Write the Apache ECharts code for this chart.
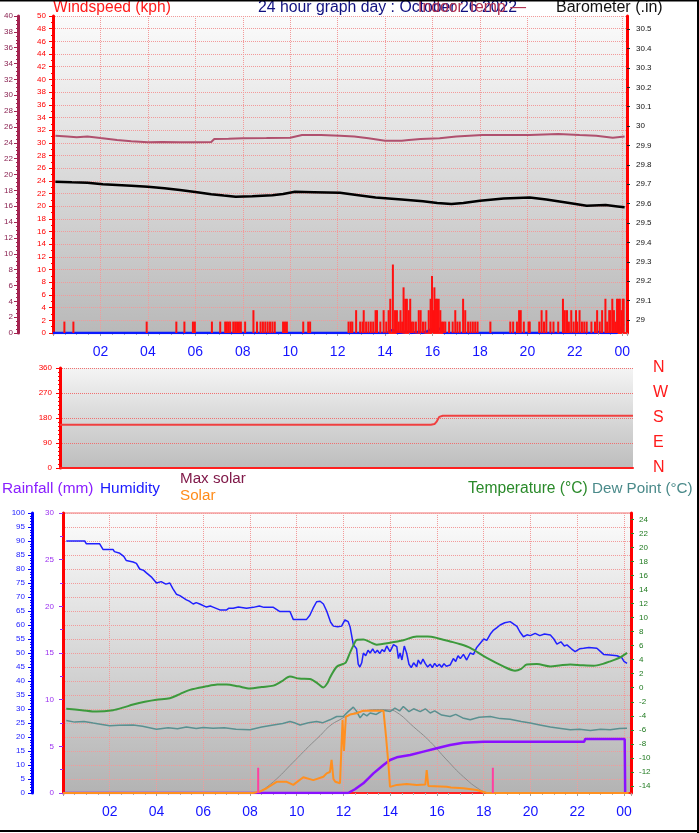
<!DOCTYPE html>
<html><head><meta charset="utf-8">
<script src="https://cdn.jsdelivr.net/npm/echarts@6/dist/echarts.min.js"></script>
<style>html,body{margin:0;padding:0;background:#fff}#c{width:699px;height:833px}</style>
</head><body><div id="c"></div>
<script>
// ---------- tick labels ----------
const hourLabels = ['02','04','06','08','10','12','14','16','18','20','22','00'];
const baroTicks = [29.0,29.1,29.2,29.3,29.4,29.5,29.6,29.7,29.8,29.9,30.0,30.1,30.2,30.3,30.4,30.5];
const tempTicks = [-14,-12,-10,-8,-6,-4,-2,0,2,4,6,8,10,12,14,16,18,20,22,24];
const dirLetters = {0:'N',90:'E',180:'S',270:'W',360:'N'};

// ---------- top panel data [hour, value] ----------
const indoorTemp = [[0.1,24.9],[0.6,24.8],[1.0,24.7],[1.45,24.8],[2.0,24.6],[2.7,24.35],[3.3,24.2],[4.0,24.06],[4.6,24.1],[5.35,24.06],[6.0,24.06],[6.67,24.1],[6.8,24.48],[7.4,24.5],[8.0,24.56],[9.0,24.6],[10.0,24.65],[10.5,24.98],[11.3,24.98],[12.1,24.9],[12.7,24.8],[13.3,24.56],[14.0,24.27],[14.7,24.27],[15.0,24.35],[15.5,24.48],[16.3,24.56],[17.0,24.8],[18.1,24.98],[19.0,24.98],[20.1,24.98],[21.3,25.1],[22.2,24.98],[22.9,24.9],[23.6,24.65],[24.1,24.8]];
const barometer = [[0.1,29.713],[0.8,29.71],[1.45,29.708],[2.1,29.70],[2.7,29.696],[3.3,29.692],[4.0,29.687],[4.7,29.68],[5.35,29.670],[6.0,29.66],[6.67,29.649],[7.2,29.642],[7.7,29.636],[8.4,29.638],[9.25,29.644],[9.7,29.65],[10.2,29.661],[11.0,29.659],[12.1,29.656],[12.8,29.645],[13.6,29.632],[14.7,29.622],[15.6,29.612],[16.2,29.604],[16.8,29.598],[17.3,29.604],[18.0,29.615],[19.0,29.627],[20.1,29.632],[20.8,29.622],[21.7,29.605],[22.5,29.589],[23.3,29.593],[23.8,29.586],[24.1,29.581]];
const windSpeed = [[0.48,1.8],[0.86,1.8],[3.95,1.8],[5.2,1.8],[5.54,1.8],[5.9,1.8],[5.98,1.8],[6.7,1.8],[7.05,1.8],[7.26,1.8],[7.33,1.8],[7.4,1.8],[7.47,1.8],[7.6,1.8],[7.68,1.8],[7.76,1.8],[7.84,1.8],[7.92,1.8],[8.1,1.8],[8.45,3.6],[8.6,1.8],[8.75,1.8],[8.85,1.8],[8.95,1.8],[9.05,1.8],[9.15,1.8],[9.25,1.8],[9.35,1.8],[9.7,1.8],[9.78,1.8],[9.86,1.8],[10.55,1.8],[10.76,1.8],[10.84,1.8],
[12.46,1.8],[12.55,1.8],[12.62,1.8],[12.78,3.6],[12.95,1.8],[13.05,1.8],[13.1,3.6],[13.2,1.8],[13.3,1.8],[13.4,1.8],[13.5,1.8],[13.6,3.6],[13.66,3.6],[13.8,1.8],[13.94,3.6],[14.05,1.8],[14.15,3.6],[14.22,5.4],[14.33,10.8],[14.42,3.6],[14.5,3.6],[14.58,1.8],[14.65,3.6],[14.72,1.8],[14.78,7.2],[14.85,5.4],[14.92,5.4],[15.0,3.6],[15.06,5.4],[15.13,1.8],[15.2,1.8],[15.3,1.8],[15.42,3.6],[15.5,3.6],[15.6,1.8],[15.7,1.8],[15.84,3.6],[15.92,5.4],[15.98,9.0],[16.04,3.6],[16.08,7.2],[16.14,5.4],[16.19,5.4],[16.26,5.4],[16.33,3.6],[16.4,1.8],[16.47,1.8],[16.54,1.8],[16.7,1.8],[16.85,1.8],[16.96,3.6],[17.05,1.8],[17.15,1.8],[17.29,5.4],[17.38,3.6],[17.5,1.8],[17.6,1.8],[17.7,1.8],[17.8,1.8],[17.9,1.8],[18.44,1.8],
[19.28,1.8],[19.4,1.8],[19.56,1.8],[19.65,3.6],[19.72,3.6],[19.85,1.8],[20.05,1.8],[20.1,1.8],[20.5,1.8],[20.6,3.6],[20.7,1.8],[20.8,3.6],[20.97,1.8],[21.1,1.8],[21.3,1.8],[21.5,5.4],[21.58,3.6],[21.67,3.6],[21.75,1.8],[21.85,3.6],[21.95,1.8],[22.05,3.6],[22.1,1.8],[22.2,3.6],[22.3,1.8],[22.4,1.8],[22.5,1.8],[22.7,1.8],[22.85,1.8],[22.94,3.6],[23.05,1.8],[23.15,3.6],[23.29,5.4],[23.36,1.8],[23.45,3.6],[23.5,3.6],[23.58,5.4],[23.65,3.6],[23.72,1.8],[23.78,5.4],[23.84,5.4],[23.9,5.4],[23.96,3.6],[24.02,5.4],[24.06,5.4]];
const avgWind = [[0,0],[14.1,0],[14.2,0.3],[14.33,0.5],[14.45,0.2],[14.55,0],[14.85,0.2],[15.0,0.2],[15.1,0],[15.45,0.2],[15.55,0],[15.8,0.3],[15.95,0.6],[16.1,0.6],[16.2,0.4],[16.3,0.7],[16.4,0.4],[16.5,0],[22.9,0],[23.0,0.2],[23.1,0],[23.75,0],[23.85,0.3],[23.95,0.8],[24.05,1.4]];

// ---------- middle panel ----------
const windDir = [[0,156],[15.6,156],[15.75,158],[15.85,168],[15.95,184],[16.1,188],[24.1,188]];

// ---------- bottom panel ----------
const humidity = [[0.14,90],[0.93,90],[1.0,89],[1.57,89],[1.71,87],[2.14,87],[2.2,86.2],[2.43,85.6],[2.6,84.5],[2.71,83],[3.0,82.5],[3.14,82],[3.28,80],[3.45,79.5],[3.57,78.6],[3.8,77],[4.0,75],[4.2,75.5],[4.4,74.6],[4.57,75],[4.7,73],[4.85,71],[5.0,70.5],[5.28,69],[5.4,68.5],[5.57,67.5],[5.7,68],[5.85,67.5],[6.14,66.4],[6.3,66.8],[6.42,66.4],[6.71,65.4],[7.0,65.4],[7.1,66],[7.28,66],[7.5,66.4],[7.85,66],[8.14,66.3],[8.4,66.8],[8.6,66.3],[9.0,66.3],[9.28,64.8],[9.71,64.8],[9.85,62],[10.42,62],[10.56,63.5],[10.7,66],[10.85,68.3],[11.0,68.5],[11.14,67.5],[11.28,65],[11.45,61],[11.57,59.6],[11.75,59.4],[11.92,59.6],[12.06,61.8],[12.2,61.2],[12.28,59.4],[12.42,53],[12.56,51.5],[12.63,46],[12.7,45],[12.78,46.5],[12.85,50],[12.95,49],[13.05,51],[13.14,50],[13.25,51.5],[13.35,50],[13.45,51],[13.55,49.8],[13.65,51.2],[13.75,50.5],[13.85,52.5],[13.99,50.5],[14.14,53],[14.28,52.3],[14.35,48],[14.42,50],[14.5,47.5],[14.6,52.5],[14.7,50],[14.8,46],[14.9,44.8],[15.0,46.5],[15.13,45.1],[15.2,47.5],[15.3,46],[15.4,47.8],[15.5,46.2],[15.6,45],[15.71,46],[15.8,44.8],[15.9,46.3],[16.0,45.2],[16.1,46],[16.2,44.9],[16.3,46.2],[16.4,45.3],[16.56,45.7],[16.7,48],[16.8,47],[16.9,49],[17.0,48],[17.13,49.5],[17.27,47.5],[17.42,50],[17.56,49.5],[17.7,52],[17.85,53.5],[18.0,55],[18.13,54.5],[18.3,57],[18.42,58.2],[18.55,59],[18.7,60],[18.9,60.8],[19.13,61.2],[19.3,60.2],[19.42,59.5],[19.55,57.5],[19.7,55.8],[19.85,56.5],[19.99,56.2],[20.2,57],[20.4,56.2],[20.6,56.8],[20.85,56.4],[21.0,55],[21.13,53.2],[21.3,54],[21.45,52.5],[21.56,52.9],[21.75,51.5],[21.91,50.5],[22.1,51.5],[22.27,51.7],[22.5,52],[22.84,51.7],[23.0,50.5],[23.13,49.5],[23.4,49.3],[23.7,49],[23.91,48.3],[24.0,47],[24.13,46.3]];
const temperature = [[0.14,-3.0],[0.8,-3.2],[1.43,-3.4],[2.14,-3.2],[2.6,-2.8],[3.0,-2.4],[3.5,-2.0],[4.0,-1.7],[4.57,-1.5],[5.0,-0.9],[5.43,-0.3],[6.14,0.2],[6.6,0.45],[7.0,0.47],[7.5,0.2],[8.0,-0.1],[8.5,0.1],[9.0,0.3],[9.35,0.9],[9.71,1.6],[10.1,1.3],[10.56,1.24],[10.9,0.6],[11.14,0.04],[11.3,0.6],[11.43,1.5],[11.71,3.0],[11.99,3.4],[12.1,3.6],[12.28,5.0],[12.42,6.0],[12.56,6.8],[12.85,6.86],[13.14,6.5],[13.42,6.14],[13.99,6.4],[14.56,6.76],[15.13,7.3],[15.6,7.3],[15.99,7.1],[16.56,6.6],[17.0,6.2],[17.42,5.67],[18.13,4.24],[18.84,3.04],[19.34,2.43],[19.6,2.7],[19.84,3.3],[20.27,3.38],[20.85,3.04],[21.3,3.2],[21.7,3.3],[22.2,3.2],[22.7,3.14],[23.1,3.4],[23.41,3.76],[23.84,4.33],[24.13,4.96]];
const dewPoint = [[0.14,-4.67],[0.5,-4.9],[0.9,-4.8],[1.29,-5.04],[1.6,-5.2],[2.0,-5.43],[2.4,-5.35],[3.0,-5.3],[3.4,-5.5],[4.0,-5.9],[4.5,-5.7],[4.9,-5.85],[5.28,-5.6],[5.7,-5.8],[6.0,-5.65],[6.42,-5.76],[6.9,-5.7],[7.4,-5.9],[8.0,-6.0],[8.5,-5.6],[9.0,-5.3],[9.4,-5.1],[9.71,-4.8],[9.9,-5.0],[10.14,-5.3],[10.5,-5.0],[10.85,-4.8],[11.1,-5.0],[11.42,-4.57],[11.71,-4.1],[11.99,-4.1],[12.2,-3.4],[12.42,-2.76],[12.55,-3.3],[12.71,-4.3],[12.85,-3.7],[13.0,-4.0],[13.14,-3.6],[13.4,-3.8],[13.7,-3.2],[13.99,-3.4],[14.2,-2.9],[14.4,-3.3],[14.56,-2.67],[14.8,-3.4],[15.0,-3.0],[15.28,-3.4],[15.5,-3.0],[15.71,-3.6],[15.9,-3.3],[16.2,-3.9],[16.56,-4.1],[16.8,-3.8],[17.1,-4.3],[17.42,-4.57],[17.8,-4.2],[18.28,-4.1],[18.7,-4.4],[19.13,-4.5],[19.6,-4.8],[19.99,-5.04],[20.4,-5.3],[20.85,-5.6],[21.3,-5.8],[21.7,-6.0],[22.1,-5.9],[22.56,-6.1],[23.0,-5.9],[23.41,-6.0],[23.8,-5.8],[24.13,-5.76]];
const rainfall = [[0,0],[12.2,0],[12.49,0.4],[12.85,1.04],[13.28,2.1],[13.71,3.0],[13.99,3.54],[14.28,3.82],[14.85,4.07],[15.42,4.43],[15.99,4.79],[16.56,5.14],[17.13,5.39],[17.99,5.5],[22.3,5.5],[22.34,5.79],[24.03,5.79],[24.05,0]];
const solar = [[0,0],[8.14,0],[8.21,3],[8.42,5],[8.71,17],[9.14,40],[9.57,40],[9.85,29],[10.28,56],[10.71,46],[11.14,58],[11.28,70],[11.42,75],[11.49,118],[11.57,50],[11.65,40],[11.85,35],[11.96,261],[12.02,150],[12.06,154],[12.1,272],[12.28,280],[12.56,285],[12.85,294],[13.3,294],[13.71,294],[13.78,296],[13.82,201],[13.88,143],[13.92,106],[13.99,22],[14.28,29],[14.71,32],[15.13,29],[15.5,30],[15.56,82],[15.63,25],[15.71,22],[16.42,22],[16.6,20],[17.13,17],[17.7,11],[18.13,0],[24.2,0]];
const maxSolar = [[8.35,0],[9.0,40],[9.85,110],[10.5,165],[11.0,205],[11.42,240],[11.85,262],[12.28,280],[12.85,292],[13.4,298],[13.9,297],[14.28,288],[14.99,237],[15.71,183],[16.42,118],[17.13,58],[17.85,11],[18.2,0]];
const sunTimes = [8.35, 18.39];

// ---------- chart ----------
const chart = echarts.init(document.getElementById('c'));
const G = echarts.graphic.LinearGradient;
const grad = (a,b) => new G(0,0,0,1,[{offset:0,color:a},{offset:1,color:b}]);
const pink = '#f29a9a';
const FF = 'Liberation Sans';
const sunMarks = [];
sunTimes.forEach(t => { sunMarks.push([t,0],[t,9],'-'); });

function xAx(grid, max, showLabels, split) {
  return {
    type:'value', gridIndex:grid, min:0, max:max, interval:2,
    axisLine:{show:true, onZero:false, lineStyle:{color:'#ff2020', width:2}},
    axisTick:{show:showLabels, length:3, lineStyle:{color:'#a0a0a0'}},
    minorTick:{show:showLabels, splitNumber:4, length:2, lineStyle:{color:'#b0b0b0'}},
    axisLabel:{show:showLabels, margin:12, color:'#1414ff', fontSize:14, fontFamily:FF,
      formatter: v => v>0 ? hourLabels[v/2-1] : ''},
    splitLine:{show:split, lineStyle:{color:pink, type:'dotted', width:1}}
  };
}
const txt = (l,t,s,c,f) => ({type:'text', left:l, top:t, style:{text:s, fill:c, font:f+'px "Liberation Sans"'}});

chart.setOption({
  animation:false,
  backgroundColor:'#ffffff',
  textStyle:{fontFamily:FF},
  grid:[
    {left:53, top:16, width:574, height:317, show:true, borderWidth:0, backgroundColor:grad('#fbfbfb','#b9b9b9')},
    {left:60, top:368, width:573, height:100, show:true, borderWidth:0, backgroundColor:grad('#f4f4f4','#bdbdbd')},
    {left:63, top:513, width:568, height:280, show:true, borderWidth:1, borderColor:'#f07070', backgroundColor:grad('#fcfcfc','#b3b3b3')}
  ],
  xAxis:[ xAx(0,24.2,true,true), xAx(1,24.1,false,false), xAx(2,24.3,true,true) ],
  yAxis:[
    {type:'value', gridIndex:0, min:0, max:50, interval:2, position:'left',
     axisLine:{show:true, lineStyle:{color:'#ff0000', width:3}},
     axisTick:{show:true, length:4, lineStyle:{color:'#ff0000'}},
     minorTick:{show:true, splitNumber:2, length:2, lineStyle:{color:'#ff0000'}},
     axisLabel:{color:'#ff0000', fontSize:8, margin:7},
     splitLine:{show:true, lineStyle:{color:pink, type:'dotted'}}},
    {type:'value', gridIndex:0, min:0, max:40, interval:2, position:'left', offset:35,
     axisLine:{show:true, lineStyle:{color:'#a3224f', width:3}},
     axisTick:{show:true, length:4, lineStyle:{color:'#a3224f'}},
     minorTick:{show:true, splitNumber:4, length:2, lineStyle:{color:'#a3224f'}},
     axisLabel:{color:'#8a2050', fontSize:8, margin:5},
     splitLine:{show:false}},
    {type:'value', gridIndex:0, min:28.933, max:30.568, position:'right',
     axisLine:{show:true, lineStyle:{color:'#ff0000', width:3}},
     axisTick:{show:true, length:3, customValues:baroTicks, lineStyle:{color:'#222'}},
     axisLabel:{color:'#111', fontSize:8, margin:9, customValues:baroTicks, formatter: v => String(+v.toFixed(1))},
     splitLine:{show:false}},
    {type:'value', gridIndex:1, min:0, max:360, interval:90, position:'left',
     axisLine:{show:true, lineStyle:{color:'#ff0000', width:3}},
     axisTick:{show:true, length:4, lineStyle:{color:'#ff0000'}},
     minorTick:{show:true, splitNumber:6, length:2, lineStyle:{color:'#ff0000'}},
     axisLabel:{color:'#ff0000', fontSize:8, margin:8},
     splitLine:{show:true, lineStyle:{color:'#f07070', type:'dotted'}}},
    {type:'value', gridIndex:1, min:0, max:360, interval:90, position:'right',
     axisLine:{show:false}, axisTick:{show:false},
     axisLabel:{color:'#ff1a1a', fontSize:16, margin:20, formatter: v => dirLetters[v]},
     splitLine:{show:false}},
    {type:'value', gridIndex:2, min:0, max:30, interval:5, position:'left',
     axisLine:{show:true, lineStyle:{color:'#ff0000', width:3}},
     axisTick:{show:true, length:4, lineStyle:{color:'#9a30f0'}},
     minorTick:{show:true, splitNumber:2, length:3, lineStyle:{color:'#9a30f0'}},
     axisLabel:{color:'#9a30f0', fontSize:8, margin:9},
     splitLine:{show:false}},
    {type:'value', gridIndex:2, min:0, max:100, interval:5, position:'left', offset:31,
     axisLine:{show:true, lineStyle:{color:'#0000ff', width:3}},
     axisTick:{show:true, length:4, lineStyle:{color:'#0000ff'}},
     minorTick:{show:true, splitNumber:5, length:2, lineStyle:{color:'#0000ff'}},
     axisLabel:{color:'#1a1aff', fontSize:8, margin:7},
     splitLine:{show:true, lineStyle:{color:pink, type:'dotted'}}},
    {type:'value', gridIndex:2, min:-15, max:24.9, position:'right',
     axisLine:{show:true, lineStyle:{color:'#ff0000', width:3}},
     axisTick:{show:true, length:3, customValues:tempTicks, lineStyle:{color:'#2a8a2a'}},
     axisLabel:{color:'#1f7a1f', fontSize:8, margin:8, customValues:tempTicks},
     splitLine:{show:false}},
    {type:'value', gridIndex:2, min:0, max:1000, show:false, splitLine:{show:false}}
  ],
  series:[
    {name:'Avg wind', type:'line', xAxisIndex:0, yAxisIndex:0, data:avgWind, showSymbol:false, z:2,
     lineStyle:{color:'#0a1aff', width:2.5}},
    {name:'Wind speed', type:'bar', xAxisIndex:0, yAxisIndex:0, data:windSpeed, barWidth:2, z:3,
     itemStyle:{color:'#ff1010'}},
    {name:'Indoor Temp', type:'line', xAxisIndex:0, yAxisIndex:1, data:indoorTemp, showSymbol:false,
     lineStyle:{color:'#b0506e', width:2}},
    {name:'Barometer', type:'line', xAxisIndex:0, yAxisIndex:2, data:barometer, showSymbol:false,
     lineStyle:{color:'#000000', width:2.5}},
    {name:'Wind direction', type:'line', xAxisIndex:1, yAxisIndex:3, data:windDir, showSymbol:false,
     lineStyle:{color:'#f04040', width:2}},
    {name:'Max solar', type:'line', xAxisIndex:2, yAxisIndex:8, data:maxSolar, showSymbol:false, smooth:true,
     lineStyle:{color:'#8c8c8c', width:1}},
    {name:'Humidity', type:'line', xAxisIndex:2, yAxisIndex:6, data:humidity, showSymbol:false,
     lineStyle:{color:'#2020ff', width:1.5}},
    {name:'Temperature', type:'line', xAxisIndex:2, yAxisIndex:7, data:temperature, showSymbol:false, smooth:0.3,
     lineStyle:{color:'#3c9a3c', width:2}},
    {name:'Dew Point', type:'line', xAxisIndex:2, yAxisIndex:7, data:dewPoint, showSymbol:false,
     lineStyle:{color:'#5a9090', width:1.5}},
    {name:'Rainfall', type:'line', xAxisIndex:2, yAxisIndex:5, data:rainfall, showSymbol:false,
     lineStyle:{color:'#8a10ff', width:2.5}},
    {name:'Solar', type:'line', xAxisIndex:2, yAxisIndex:8, data:solar, showSymbol:false,
     lineStyle:{color:'#ff9020', width:2}},
    {name:'Sun', type:'line', xAxisIndex:2, yAxisIndex:6, data:sunMarks, showSymbol:false, connectNulls:false,
     lineStyle:{color:'#ff40a0', width:2}}
  ],
  graphic:[
    txt(53,0,'Windspeed (kph)','#ff1a1a',15.6),
    txt(258,0,'24 hour graph day : October 26 2022','#101080',15.8),
    txt(418,0,'Indoor Temp —','#b03050',15.8),
    txt(556,0,'Barometer (.in)','#111111',16),
    txt(2,481,'Rainfall (mm)','#8a20ff',15.4),
    txt(100,481,'Humidity','#1a1aff',15.4),
    txt(180,471,'Max solar','#801a4a',15.2),
    txt(180,488,'Solar','#ff8c1a',15.2),
    txt(468,481,'Temperature (°C)','#2a8a2a',15.6),
    txt(592,481,'Dew Point (°C)','#4a8a8a',15.2),
    {type:'rect', shape:{x:0,y:0,width:699,height:1.5}, style:{fill:'#000'}},
    {type:'rect', shape:{x:697,y:0,width:2,height:833}, style:{fill:'#000'}},
    {type:'rect', shape:{x:0,y:830,width:699,height:2}, style:{fill:'#000'}}
  ]
});
</script></body></html>
